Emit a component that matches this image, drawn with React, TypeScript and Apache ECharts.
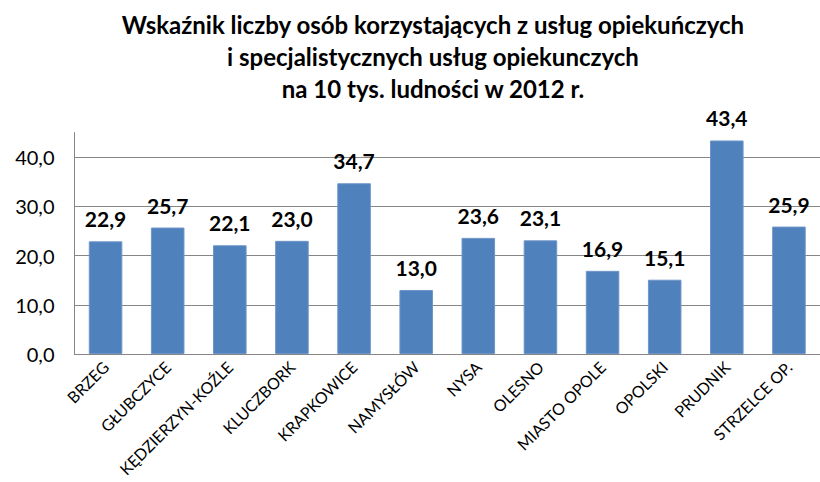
import React, { useEffect, useRef } from "react";
import * as echarts from "echarts";

const titleLines = [
  "Wskaźnik liczby osób korzystających z usług opiekuńczych",
  "i specjalistycznych usług opiekunczych",
  "na 10 tys. ludności w 2012 r.",
];
const categories = [
  "BRZEG",
  "GŁUBCZYCE",
  "KĘDZIERZYN-KOŹLE",
  "KLUCZBORK",
  "KRAPKOWICE",
  "NAMYSŁÓW",
  "NYSA",
  "OLESNO",
  "MIASTO OPOLE",
  "OPOLSKI",
  "PRUDNIK",
  "STRZELCE OP.",
];
const values = [22.9, 25.7, 22.1, 23.0, 34.7, 13.0, 23.6, 23.1, 16.9, 15.1, 43.4, 25.9];
const gridValues = [10, 20, 30, 40];
const yMin = 0;
const yMax = 45;
const yInterval = 10;

const fmt = (v: number) => v.toFixed(1).replace(".", ",");
const FONT = "Lato, 'Open Sans', sans-serif";

export default function App() {
  const ref = useRef<HTMLDivElement>(null);
  useEffect(() => {
    if (!ref.current) return;
    const chart = echarts.init(ref.current, undefined, { renderer: "svg" });
    chart.setOption({
      animation: false,
      backgroundColor: "#ffffff",
      title: {
        text: titleLines.join("\n"),
        left: 428,
        top: 3,
        textAlign: "center",
        textStyle: {
          fontFamily: FONT,
          fontWeight: "bold",
          fontSize: 24,
          lineHeight: 32,
          color: "#000000",
        },
      },
      grid: { left: 74.5, right: -13, top: 132.6, bottom: 128, containLabel: false },
      xAxis: {
        type: "category",
        data: categories,
        axisLine: { show: true, lineStyle: { color: "#868686", width: 1 } },
        axisTick: { show: false },
        axisLabel: {
          rotate: 45,
          interval: 0,
          margin: 10,
          fontFamily: FONT,
          fontSize: 16,
          color: "#000000",
        },
      },
      yAxis: {
        type: "value",
        min: yMin,
        max: yMax,
        interval: yInterval,
        axisLine: { show: true, lineStyle: { color: "#868686", width: 1 } },
        axisTick: { show: false },
        splitLine: { show: false },
        axisLabel: {
          showMaxLabel: false,
          margin: 20,
          fontFamily: FONT,
          fontSize: 20,
          color: "#000000",
          formatter: (v: number) => (v === yMax ? "" : fmt(v)),
        },
      },
      series: [
        {
          type: "bar",
          data: values,
          barWidth: "54%",
          itemStyle: { color: "#4F81BD", borderColor: "#6E95C8", borderWidth: 1 },
          label: {
            show: true,
            position: "top",
            distance: 12,
            fontFamily: FONT,
            fontWeight: "bold",
            fontSize: 21,
            lineHeight: 21,
            color: "#000000",
            formatter: (p: any) => fmt(p.value),
          },
          markLine: {
            silent: true,
            symbol: "none",
            label: { show: false },
            lineStyle: { color: "#868686", width: 1, type: "solid" },
            z: 0,
            data: gridValues.map((v) => ({ yAxis: v })),
          },
          z: 2,
        },
      ],
    });
    return () => chart.dispose();
  }, []);
  return (
    <div
      ref={ref}
      style={{ position: "fixed", left: 0, top: 0, width: 820, height: 482 }}
    />
  );
}
